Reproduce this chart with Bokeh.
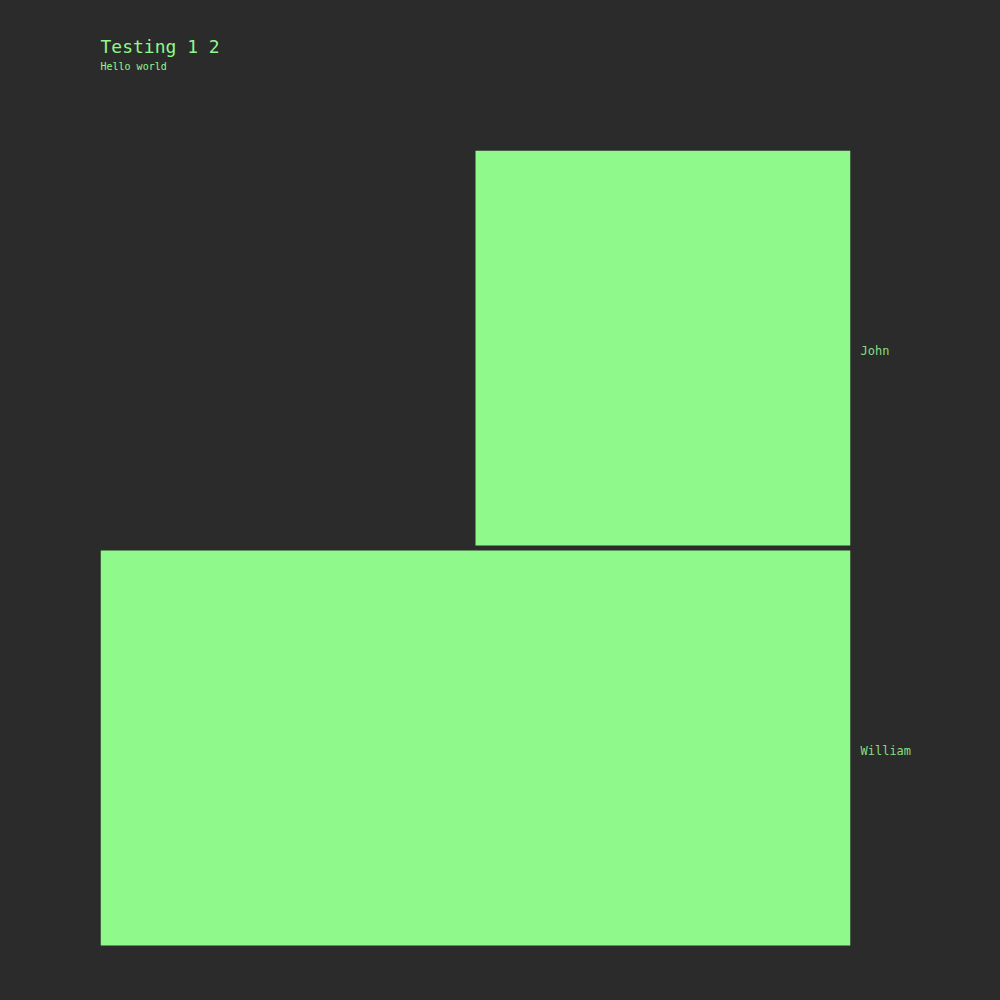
from bokeh.plotting import figure
from bokeh.models import Range1d, LinearAxis, FixedTicker, Title, ColumnDataSource
from bokeh.embed import file_html
from bokeh.resources import INLINE

categories = ["John", "William"]
values = [1, 2]
title_text = "Testing 1 2"
subtitle_text = "Hello world"

BG = "#2b2b2b"
GREEN = "#8ff98b"
LABEL = "#86de82"
FONT = "DejaVu Sans Mono"

idx = list(range(len(categories)))
src = ColumnDataSource(dict(
    left=values,
    right=[0] * len(values),
    top=[i for i in idx],
    bottom=[i + 0.9875 for i in idx],
))

p = figure(width=1000, height=1000, output_backend="svg", toolbar_location=None,
           x_range=Range1d(max(values), 0), y_range=Range1d(len(categories), 0),
           min_border_left=100, min_border_right=150, min_border_top=150,
           min_border_bottom=50, background_fill_color=None, border_fill_color=None,
           x_axis_location=None, y_axis_location=None)
p.styles = {"background-color": BG}
p.outline_line_color = None
p.grid.visible = False

p.quad(left="left", right="right", top="top", bottom="bottom", source=src,
       fill_color=GREEN, line_color=None)

ax = LinearAxis(ticker=FixedTicker(ticks=[i + 0.5 for i in idx]),
                major_label_overrides={i + 0.5: c for i, c in zip(idx, categories)},
                axis_line_color=None, major_tick_line_color=None, minor_tick_line_color=None,
                major_label_text_color=LABEL, major_label_text_font=FONT,
                major_label_text_font_size="12px", major_label_standoff=4)
p.add_layout(ax, "right")

# spacer between the frame and the subtitle
p.add_layout(Title(text=" ", text_font_size="1px", standoff=76), "above")
p.add_layout(Title(text=subtitle_text, text_color=GREEN, text_font=FONT,
                   text_font_size="10px", text_font_style="normal", standoff=0), "above")
p.add_layout(Title(text=title_text, text_color=GREEN, text_font=FONT,
                   text_font_size="18px", text_font_style="normal", standoff=3), "above")

open("out.html", "w").write(file_html(p, INLINE))
